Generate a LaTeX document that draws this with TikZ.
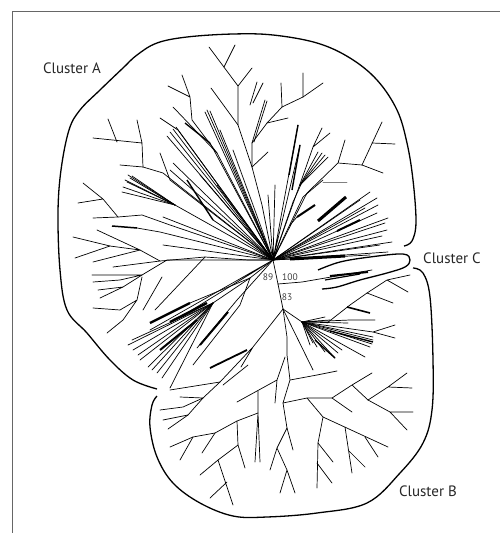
\documentclass[tikz,border=0pt]{standalone}
\usepackage{fontspec}
\setmainfont{PT Sans}
\usetikzlibrary{calc}
\tikzset{
  twig/.style={line width=.7pt,line cap=round},
  heavy/.style={line width=2pt},
  hull/.style={line width=1.3pt,line join=round},
  clabel/.style={font=\fontsize{15}{17}\selectfont,text=black!85,inner sep=0pt},
  boot/.style={font=\fontsize{9.5}{11}\selectfont,text=black!75,inner sep=0pt}
}
\begin{document}
\begin{tikzpicture}[x=1pt,y=-1pt]
  \useasboundingbox (0,0) rectangle (500,533);
  \draw[black!60,line width=.8pt] (12,533)--(12,11)--(500,11);

  % branch points
  \coordinate (hub) at (273,260);
  \coordinate (n89) at (278,284);
  \coordinate (n83) at (283,309);
  \coordinate (fanB) at (302,322);
  \coordinate (fanL) at (213,303);
  \coordinate (fanUL) at (175,205);

  % cluster A, top
  \draw[twig] (hub)--(262,205)--(252,167)--(238,125)--(238,86)--(209,47);
  \draw[twig] (224,67)--(235,45) (238,86)--(252,68) (211,88)--(238,125) (252,167)--(268,152);
  \draw[twig] (252,167)--(252,143)--(267,123)--(282,107)--(303,97)--(323,83);
  \draw[twig] (282,107)--(281,83) (303,97)--(303,73) (267,123)--(288,118);
  \draw[twig] (252,143)--(265,100) (254,142)--(267,101) (257,82)--(250,105) (263,83)--(253,103);

  % cluster A, upper left
  \draw[twig] (hub)--(217,153)--(192,120)--(190,97)--(182,75) (190,97)--(168,86);
  \draw[twig] (217,153)--(173,107) (hub)--(178,130)--(160,118);
  \draw[line width=1.4pt] (185,123)--(210,143);
  \draw[twig] (210,143)--(hub);
  \foreach \e in {(170,132),(173,129),(167,136),(176,127),(205,112),(207,110),(210,111),
                  (220,130),(233,150),(170,170),(173,163),(217,185),(163,217),(200,175)}
    \draw[twig] (hub)--\e;
  \draw[line width=1.4pt] (187,180)--(213,220);
  \draw[twig] (213,220)--(hub);
  \draw[twig] (160,153)--(170,180)--(hub);
  \foreach \e in {(128,175),(130,178),(127,182),(123,187),(122,192),(125,180),(132,176)}
    \draw[twig] (fanUL)--\e;
  \draw[twig] (fanUL)--(hub);
  \draw[twig] (108,119)--(117,142) (93,138)--(142,143) (137,120)--(142,143)--(143,167)--(163,173)--(hub);
  \draw[twig] (120,165)--(143,167);

  % cluster A, upper right
  \draw[twig] (hub)--(300,145) (hub)--(298,125) (hub)--(275,185) (hub)--(268,195);
  \draw[line width=1.4pt] (300,145)--(292,190) (298,125)--(289,175);
  \draw[twig] (hub)--(305,170)--(313,147)--(322,128) (313,147)--(330,133);
  \foreach \e in {(318,152),(322,153),(325,155),(328,157)}
    \draw[twig] (300,185)--\e;
  \draw[twig] (hub)--(307,193)--(338,163)--(345,140) (338,163)--(362,165)--(382,122);
  \draw[twig] (372,143)--(395,144) (362,165)--(383,173);
  \draw[twig,black!50] (323,182)--(347,182);
  \draw[twig] (hub)--(303,197)--(323,180) (hub)--(293,202)--(303,180);

  % cluster A, right fan
  \foreach \e in {(370,192),(377,198),(378,205),(377,213),(388,218),(385,223),(387,230),
                  (392,242),(388,252),(370,255),(360,200),(382,236),(365,208),(380,245)}
    \draw[twig] (hub)--\e;
  \draw[line width=3pt] (318,221)--(346,197);
  \draw[heavy] (337,231)--(360,220) (297,217)--(315,205);
  \draw[line width=3pt] (290,259)--(345,256);
  \draw[twig] (290,225)--(297,217);

  % cluster A, left
  \draw[twig] (hub)--(248,260)--(205,257)--(160,261)--(113,267);
  \draw[twig] (205,257)--(155,310) (160,261)--(140,250)--(97,230) (140,250)--(110,246)--(73,237);
  \draw[twig] (110,246)--(75,258) (140,250)--(93,262);
  \draw[twig] (hub)--(167,260)--(142,275)--(92,275) (142,275)--(120,280)--(93,282);
  \draw[twig] (142,275)--(123,287)--(98,290) (123,287)--(100,298);
  \draw[twig] (142,277)--(137,300)--(120,310)--(93,308) (137,300)--(123,320)--(107,333);
  \draw[twig] (hub)--(163,245) (hub)--(160,232)--(137,228);
  \draw[line width=1.5pt] (112,226)--(137,228);
  \draw[twig] (hub)--(170,225)--(142,215)--(118,217)--(93,218);
  \draw[twig] (118,217)--(103,199)--(78,203) (103,199)--(83,183);

  % cluster A, lower left
  \draw[twig] (hub)--(250,278)--(fanL);
  \foreach \e in {(132,340),(133,350),(140,360),(148,367),(157,373),(162,378),(170,388),
                  (128,345),(138,355),(152,370)}
    \draw[twig] (fanL)--\e;
  \draw[twig] (hub)--(187,313) (143,310)--(162,277) (hub)--(150,330);
  \draw[line width=2.4pt] (150,323)--(190,303) (170,322)--(207,303);
  \draw[twig] (190,303)--(250,278);
  \draw[twig] (hub)--(237,300)--(197,348);
  \draw[line width=2pt] (160,350)--(197,320) (200,345)--(228,312);
  \draw[twig] (250,278)--(240,305)--(193,365);
  \draw[line width=1.8pt] (210,368)--(247,350);

  % cluster C
  \draw[twig] (hub)--(n89)--(302,282)--(372,270);
  \draw[heavy] (330,276)--(368,272);
  \draw[line width=1.2pt] (325,280)--(360,274);

  % cluster B
  \draw[twig] (n89)--(n83)--(fanB);
  \foreach \e in {(325,317),(330,320),(348,323),(373,337),(373,340),(372,344),(370,347),
                  (365,357),(342,350),(338,353),(335,358),(325,352),(317,347),(313,343),(310,345)}
    \draw[twig] (fanB)--\e;
  \draw[line width=1.4pt] (330,331)--(373,342) (315,340)--(335,358);
  \draw[twig] (327,323)--(350,305)--(367,293)--(387,280)--(410,275) (387,280)--(408,292);
  \draw[twig] (367,293)--(393,303) (fanB)--(350,320)--(375,320);
  \draw[line width=1.6pt] (347,307)--(370,313);
  \draw[twig] (fanB)--(373,332)--(395,325) (373,332)--(395,338);
  \draw[twig] (n83)--(313,370);
  \draw[twig] (n83)--(287,337)--(287,355)--(290,380)--(283,403)--(287,428)--(293,450);
  \draw[twig] (287,428)--(277,448)--(270,470) (277,448)--(287,470)--(280,493) (287,470)--(295,493);
  \draw[twig] (290,380)--(317,375)--(337,371) (283,403)--(307,398)--(332,398);
  \draw[twig] (332,398)--(352,385)--(372,373) (332,398)--(352,412) (352,385)--(368,400);
  \draw[twig] (368,400)--(388,387)--(407,373) (388,387)--(412,388);
  \draw[twig] (368,400)--(390,412)--(413,412) (390,412)--(407,430);
  \draw[twig] (307,398)--(323,417)--(388,447) (323,417)--(318,443)--(317,488);
  \draw[twig] (318,443)--(333,462) (317,463)--(332,483);
  \draw[twig] (345,427)--(352,473) (348,450)--(365,467) (365,437)--(378,457);
  \draw[twig] (285,357)--(277,380)--(237,402) (277,380)--(275,403);
  \draw[twig] (258,391)--(258,413)--(260,462) (258,413)--(255,462);
  \draw[twig] (258,413)--(237,421)--(215,433)--(193,437)--(170,447);
  \draw[twig] (193,437)--(180,460) (215,433)--(202,453) (237,421)--(238,445)--(245,468);
  \draw[twig] (238,445)--(218,460)--(200,475) (218,460)--(233,505) (227,482)--(210,498);
  \draw[twig] (n83)--(253,347)--(220,382)--(170,390) (253,347)--(241,367);
  \draw[twig] (220,382)--(203,398)--(180,397) (203,398)--(188,415)--(163,420);
  \draw[twig] (188,415)--(168,429) (203,398)--(183,407)--(160,410);
  \draw[twig] (223,385)--(248,365);

  % cluster outlines
  \draw[hull] plot[smooth,tension=.6] coordinates {(157,389) (133,380) (110,360) (87,333)
    (67,310) (60,270) (58,213) (61,170) (69,130) (80,110) (100,90) (123,68) (137,55)
    (157,43) (187,37) (233,34) (273,35) (317,43) (350,58) (377,80) (397,110) (407,143)
    (413,180) (416,222) (412,241) (404,246)};
  \draw[hull] plot[smooth,tension=.6] coordinates {(413,268) (423,273) (430,297) (433,360)
    (432,410) (423,443) (400,473) (367,503) (317,513) (267,517) (233,516) (200,503)
    (173,483) (157,457) (150,427) (152,405) (157,396)};
  \draw[hull] plot[smooth,tension=.6] coordinates {(318,270) (340,262) (370,257) (403,254)
    (410,260) (405,267) (387,273) (360,280) (337,287) (322,289)};

  % labels
  \node[clabel] (labA) at (72,68) {Cluster A};
  \node[clabel] (labC) at (452,258) {Cluster C};
  \node[clabel] (labB) at (428,491) {Cluster B};
  \node[boot] (b89) at (268,277) {89};
  \node[boot] (b100) at (290,277) {100};
  \node[boot] (b83) at (287,297) {83};
\end{tikzpicture}
\end{document}
